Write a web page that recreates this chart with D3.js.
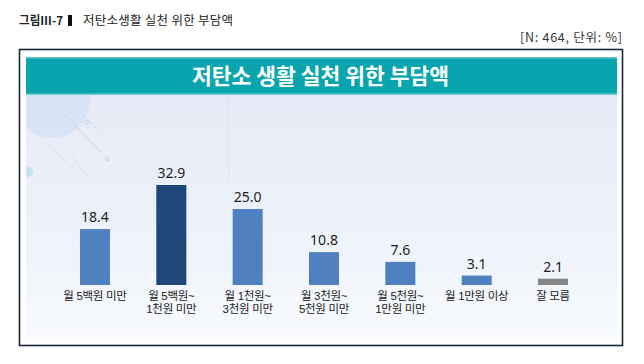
<!DOCTYPE html>
<html>
<head>
<meta charset="utf-8">
<script src="https://cdn.jsdelivr.net/npm/d3@7"></script>
<style>
  html, body { margin: 0; padding: 0; background: #fff; }
  svg { display: block; }
</style>
</head>
<body>
<div id="chart"></div>
<script>
// chart data
var categories = ["월 5백원 미만", "월 5백원~\n1천원 미만", "월 1천원~\n3천원 미만", "월 3천원~\n5천원 미만", "월 5천원~\n1만원 미만", "월 1만원 이상", "잘 모름"];
var values = [18.4, 32.9, 25.0, 10.8, 7.6, 3.1, 2.1];
var figureLabel = "그림Ⅲ-7";
var figureTitle = "저탄소생활 실천 위한 부담액";
var bannerTitle = "저탄소 생활 실천 위한 부담액";
var noteText = "[N: 464, 단위: %]";

var W = 644, H = 364;
var krFont = "'Noto Sans CJK KR', 'Noto Sans', sans-serif";
var labelFont = "'Liberation Sans', 'Noto Sans CJK KR', sans-serif";

var svg = d3.select("#chart").append("svg")
  .attr("width", W)
  .attr("height", H);

var defs = svg.append("defs");
var grad = defs.append("linearGradient")
  .attr("id", "bg").attr("x1", 0).attr("y1", 0).attr("x2", 0).attr("y2", 1);
grad.append("stop").attr("offset", "0%").attr("stop-color", "#e6ebf7");
grad.append("stop").attr("offset", "45%").attr("stop-color", "#ebf0f9");
grad.append("stop").attr("offset", "100%").attr("stop-color", "#f8fafd");

defs.append("clipPath").attr("id", "panelClip")
  .append("rect").attr("x", 26).attr("y", 95).attr("width", 591).attr("height", 244);

// header above the box
svg.append("text")
  .attr("x", 19).attr("y", 25)
  .attr("textLength", 44).attr("lengthAdjust", "spacingAndGlyphs")
  .style("font-family", krFont).style("font-size", "12px").style("font-weight", 700)
  .attr("fill", "#222")
  .text(figureLabel);

svg.append("rect")
  .attr("x", 68).attr("y", 15).attr("width", 4).attr("height", 11)
  .attr("fill", "#111");

svg.append("text")
  .attr("x", 83).attr("y", 25)
  .attr("textLength", 150).attr("lengthAdjust", "spacing")
  .style("font-family", krFont).style("font-size", "12.5px")
  .attr("fill", "#222")
  .text(figureTitle);

svg.append("text")
  .attr("x", 520).attr("y", 42)
  .attr("textLength", 102).attr("lengthAdjust", "spacing")
  .style("font-family", krFont).style("font-size", "12.5px")
  .attr("fill", "#333")
  .text(noteText);

// outer frame
svg.append("rect")
  .attr("x", 19.5).attr("y", 49.5).attr("width", 603).attr("height", 296)
  .attr("fill", "#fff")
  .attr("stroke", "#1b2735").attr("stroke-width", 1.6);

// panel background
svg.append("rect")
  .attr("x", 26).attr("y", 95).attr("width", 591).attr("height", 244)
  .attr("fill", "url(#bg)");

// soft decoration at top left
var deco = svg.append("g").attr("clip-path", "url(#panelClip)");
deco.append("circle").attr("cx", 52).attr("cy", 100).attr("r", 38)
  .attr("fill", "#d2e2f5").attr("opacity", 0.8);
deco.append("line").attr("x1", 62).attr("y1", 112).attr("x2", 102).attr("y2", 153)
  .attr("stroke", "#c2d3ea").attr("stroke-width", 0.8);
deco.append("line").attr("x1", 72).attr("y1", 105).attr("x2", 98).attr("y2", 130)
  .attr("stroke", "#c2d3ea").attr("stroke-width", 0.8).attr("stroke-dasharray", "3,2");
deco.append("line").attr("x1", 48).attr("y1", 145).attr("x2", 80).attr("y2", 176)
  .attr("stroke", "#cfdcee").attr("stroke-width", 0.8).attr("stroke-dasharray", "3,2");
deco.append("line").attr("x1", 70).attr("y1", 155).attr("x2", 90).attr("y2", 178)
  .attr("stroke", "#cfdcee").attr("stroke-width", 0.8);
deco.append("circle").attr("cx", 87).attr("cy", 122).attr("r", 1.8)
  .attr("fill", "none").attr("stroke", "#b9cce6").attr("stroke-width", 0.8);
deco.append("circle").attr("cx", 107).attr("cy", 159).attr("r", 1.8)
  .attr("fill", "none").attr("stroke", "#b9cce6").attr("stroke-width", 0.8);
deco.append("circle").attr("cx", 28).attr("cy", 172).attr("r", 5)
  .attr("fill", "#c3e6ec");
deco.append("line").attr("x1", 228.5).attr("y1", 95).attr("x2", 228.5).attr("y2", 182)
  .attr("stroke", "#dde3ee").attr("stroke-width", 1);

// teal banner
svg.append("rect")
  .attr("x", 26).attr("y", 57).attr("width", 591).attr("height", 38)
  .attr("fill", "#08a5ae");
svg.append("rect")
  .attr("x", 26).attr("y", 57).attr("width", 591).attr("height", 1.5)
  .attr("fill", "#5cc6cc");
svg.append("rect")
  .attr("x", 26).attr("y", 93.5).attr("width", 591).attr("height", 1.5)
  .attr("fill", "#6fcdd2");

svg.append("text")
  .attr("x", 192).attr("y", 84)
  .attr("textLength", 257).attr("lengthAdjust", "spacingAndGlyphs")
  .style("font-family", krFont).style("font-size", "22px").style("font-weight", 700)
  .attr("fill", "#fff")
  .text(bannerTitle);

// bar chart
var baseline = 285;

var x = d3.scaleBand()
  .domain(categories)
  .range([56.8, 591.2])
  .paddingInner(0.607)
  .paddingOuter(0.3035);

var y = d3.scaleLinear()
  .domain([0, 32.9])
  .range([baseline, 185]);

var barColor = function(d, i) {
  if (i === 1) return "#1f477a";
  if (i === categories.length - 1) return "#878787";
  return "#4f80c0";
};

var g = svg.append("g");

g.selectAll("rect.bar")
  .data(values)
  .enter().append("rect")
  .attr("class", "bar")
  .attr("x", function(d, i) { return x(categories[i]); })
  .attr("width", x.bandwidth())
  .attr("y", function(d) { return y(d); })
  .attr("height", function(d) { return baseline - y(d); })
  .attr("fill", barColor);

g.selectAll("text.val")
  .data(values)
  .enter().append("text")
  .attr("class", "val")
  .attr("x", function(d, i) { return x(categories[i]) + x.bandwidth() / 2; })
  .attr("y", function(d) { return y(d) - 7; })
  .attr("text-anchor", "middle")
  .style("font-family", "'Noto Sans', sans-serif")
  .style("font-size", "14px")
  .attr("fill", "#1e1e1e")
  .text(function(d) { return d3.format(".1f")(d); });

// category labels, one text per line
var lines = [];
categories.forEach(function(c) {
  c.split("\n").forEach(function(line, k) {
    lines.push({ cat: c, line: line, row: k });
  });
});

g.selectAll("text.cat")
  .data(lines)
  .enter().append("text")
  .attr("class", "cat")
  .attr("x", function(d) { return x(d.cat) + x.bandwidth() / 2; })
  .attr("y", function(d) { return 300 + d.row * 13; })
  .attr("text-anchor", "middle")
  .style("font-family", labelFont)
  .style("font-size", "11.5px")
  .style("letter-spacing", "-0.3px")
  .attr("fill", "#222")
  .text(function(d) { return d.line; });
</script>
</body>
</html>
